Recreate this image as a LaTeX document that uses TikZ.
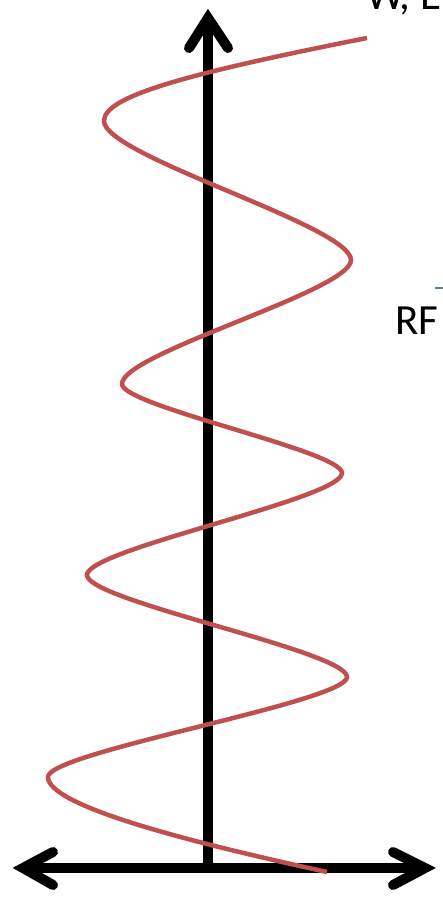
\documentclass[tikz,border=0pt]{standalone}
\usepackage{fontspec}
\setmainfont{Carlito}
\definecolor{wred}{HTML}{C0504D}
\definecolor{wblue}{HTML}{4F81BD}
\begin{document}
\begin{tikzpicture}[x=1pt,y=-1pt,
  axisline/.style={line width=10pt},
  chev/.style={line width=10pt, line cap=round, line join=miter},
  wave/.style={wred, line width=4.5pt},
  lbl/.style={anchor=base west, inner sep=0pt, font=\fontsize{43}{50}\selectfont}]
\useasboundingbox (0,0) rectangle (443,901);
\clip (0,0) rectangle (443,901);
% axes
\coordinate (O) at (208,868);
\coordinate (Vtop) at (208,18);
\coordinate (Hl) at (23,868);
\coordinate (Hr) at (425,868);
\draw[axisline] (O) -- (Vtop);
\draw[axisline] (Hl) -- (Hr);
\draw[chev] (189,48) -- (Vtop) -- (228,48);
\draw[chev] (53,852) -- (Hl) -- (53,885);
\draw[chev] (393,852) -- (Hr) -- (393,885);
% wave
\coordinate (S) at (367,38);
\coordinate (L1) at (104,121);
\coordinate (R1) at (351,260);
\coordinate (L2) at (122,384);
\coordinate (R2) at (342,473);
\coordinate (L3) at (87,575);
\coordinate (R3) at (347,677);
\coordinate (L4) at (48,777);
\coordinate (E) at (327,872);
\draw[wave] (S) .. controls (180,75) and (104,97) .. (L1)
  .. controls (104,156) and (351,226) .. (R1)
  .. controls (351,291) and (122,353) .. (L2)
  .. controls (122,406) and (342,451) .. (R2)
  .. controls (342,499) and (87,549) .. (L3)
  .. controls (87,601) and (347,651) .. (R3)
  .. controls (347,702) and (48,752) .. (L4)
  .. controls (48,805) and (180,840) .. (E);
% labels
\node[lbl] (top) at (366,10) {W, E};
\node[lbl] (rf) at (395,334) {RF};
\draw[wblue, line width=1.5pt] (435,288) -- (443,288);
\end{tikzpicture}
\end{document}
